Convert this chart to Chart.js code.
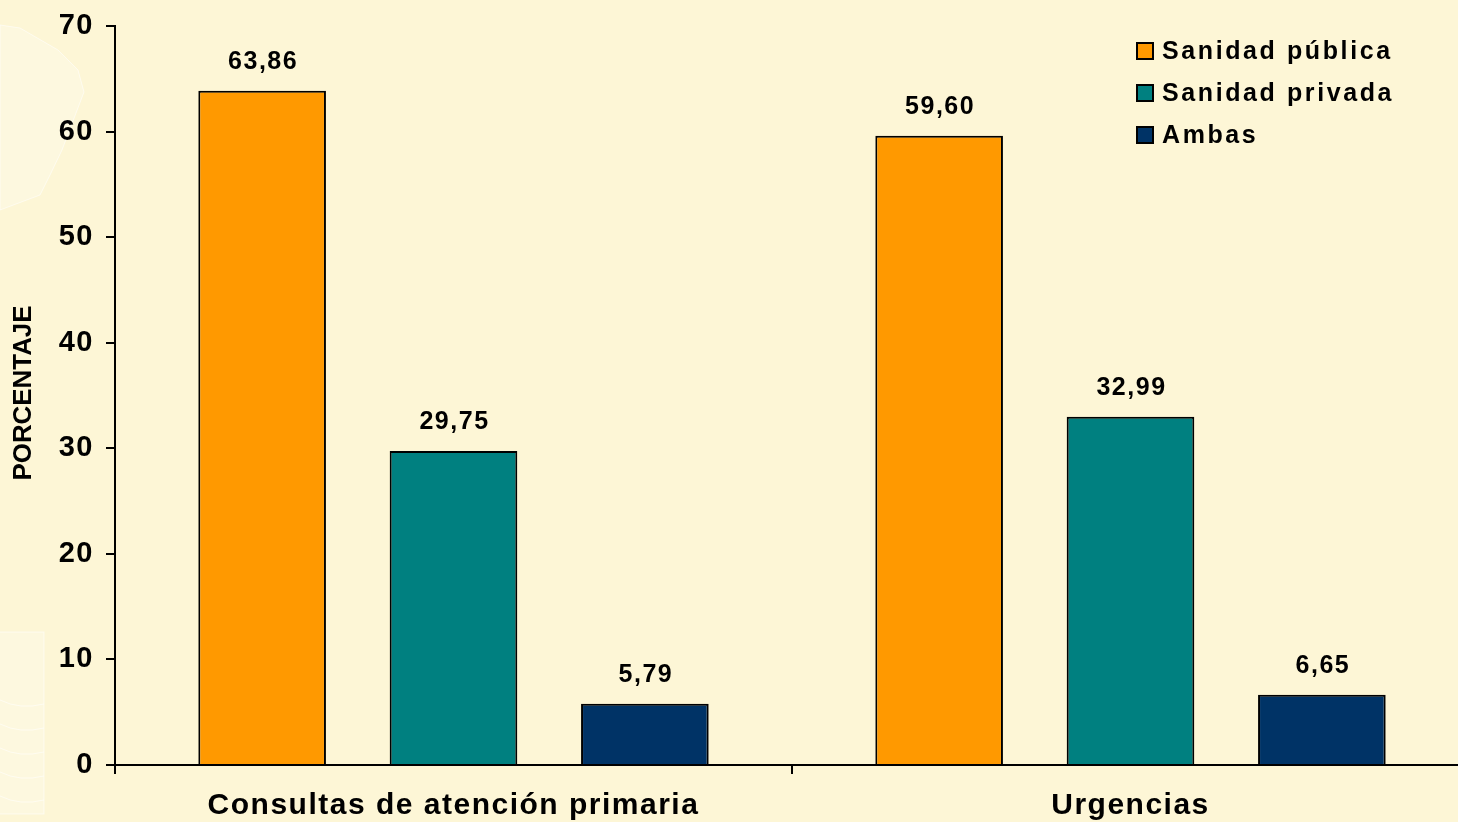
<!DOCTYPE html>
<html>
<head>
<meta charset="utf-8">
<script src="https://cdn.jsdelivr.net/npm/chart.js@4.4.1/dist/chart.umd.min.js"></script>
<style>
  html, body { margin: 0; padding: 0; background: #fdf6d6; overflow: hidden; }
  #wrap { width: 1458px; height: 822px; overflow: hidden; }
</style>
</head>
<body>
<div id="wrap"><canvas id="chart" width="1470" height="822"></canvas></div>
<script>
const categories = ["Consultas de atención primaria", "Urgencias"];
const seriesNames = ["Sanidad pública", "Sanidad privada", "Ambas"];
const publica = [63.86, 59.60];
const privada = [29.75, 32.99];
const ambas = [5.79, 6.65];
const yTicks = [0, 10, 20, 30, 40, 50, 60, 70];
const colors = ["#ff9900", "#008080", "#003366"];

const FONT = "'Liberation Sans', Arial, sans-serif";

function fmt(v) {
    return v.toFixed(2).replace(".", ",");
}

// the original text is a bit wide, so space the letters out
const spacing = {
    id: "spacing",
    beforeUpdate(chart) { chart.ctx.letterSpacing = "1.5px"; },
    beforeDraw(chart) { chart.ctx.letterSpacing = "1.5px"; }
};

// faint watermark shapes on the left edge
const watermark = {
    id: "watermark",
    beforeDraw(chart) {
        const ctx = chart.ctx;
        ctx.save();
        ctx.fillStyle = "rgba(255,255,255,0.22)";
        ctx.strokeStyle = "rgba(255,255,255,0.55)";
        ctx.lineWidth = 1;
        ctx.beginPath();
        ctx.moveTo(0, 25);
        ctx.lineTo(20, 28);
        ctx.lineTo(58, 50);
        ctx.lineTo(78, 70);
        ctx.lineTo(84, 92);
        ctx.lineTo(62, 150);
        ctx.lineTo(50, 175);
        ctx.lineTo(40, 195);
        ctx.lineTo(0, 210);
        ctx.closePath();
        ctx.fill();
        ctx.stroke();
        ctx.fillRect(0, 632, 44, 182);
        ctx.strokeRect(-2, 632, 46, 182);
        for (let y = 700; y < 815; y += 24) {
            ctx.beginPath();
            ctx.moveTo(0, y);
            ctx.quadraticCurveTo(20, y + 10, 44, y + 4);
            ctx.stroke();
        }
        ctx.restore();
    }
};

// value labels over each bar
const valueLabels = {
    id: "valueLabels",
    afterDatasetsDraw(chart) {
        const ctx = chart.ctx;
        ctx.save();
        ctx.font = "bold 25px " + FONT;
        ctx.letterSpacing = "1.5px";
        ctx.fillStyle = "#000";
        ctx.textAlign = "center";
        ctx.textBaseline = "middle";
        chart.data.datasets.forEach((ds, i) => {
            chart.getDatasetMeta(i).data.forEach((bar, j) => {
                ctx.fillText(fmt(ds.data[j]), bar.x + 1, bar.y - 29);
            });
        });
        ctx.restore();
    }
};

// legend in the top right corner + rotated axis title
const extras = {
    id: "extras",
    afterDraw(chart) {
        const ctx = chart.ctx;
        ctx.save();
        ctx.font = "bold 25px " + FONT;
        ctx.letterSpacing = "2.6px";
        ctx.textBaseline = "middle";
        chart.data.datasets.forEach((ds, i) => {
            const y = 51 + i * 42;
            ctx.fillStyle = ds.backgroundColor;
            ctx.fillRect(1137, y - 8, 16, 16);
            ctx.lineWidth = 2;
            ctx.strokeStyle = "#000";
            ctx.strokeRect(1137, y - 8, 16, 16);
            ctx.fillStyle = "#000";
            ctx.fillText(ds.label, 1162, y + 1);
        });
        ctx.restore();

        ctx.save();
        ctx.font = "bold 25px " + FONT;
        ctx.letterSpacing = "0px";
        const w = ctx.measureText("PORCENTAJE").width;
        ctx.translate(24, 393);
        ctx.rotate(-Math.PI / 2);
        ctx.scale(175 / w, 1);
        ctx.fillStyle = "#000";
        ctx.textAlign = "center";
        ctx.textBaseline = "middle";
        ctx.fillText("PORCENTAJE", 0, 0);
        ctx.restore();
    }
};

new Chart(document.getElementById("chart"), {
    type: "bar",
    data: {
        labels: categories,
        datasets: [publica, privada, ambas].map((d, i) => ({
            label: seriesNames[i],
            data: d,
            backgroundColor: colors[i],
            borderColor: "#000",
            borderWidth: 2,
            barPercentage: 0.667,
            categoryPercentage: 0.848
        }))
    },
    options: {
        responsive: false,
        animation: false,
        layout: { padding: { top: 26, right: 1, left: 0, bottom: 0 } },
        plugins: {
            legend: { display: false },
            tooltip: { enabled: false }
        },
        scales: {
            x: {
                grid: { display: true, drawOnChartArea: false, drawTicks: true, tickLength: 9, color: "#000", lineWidth: 2, offset: true },
                border: { display: true, color: "#000", width: 2 },
                ticks: { color: "#000", font: { family: FONT, size: 30, weight: "bold" }, padding: 14 },
                afterFit(scale) { scale.height = 57; }
            },
            y: {
                min: 0,
                max: 70,
                afterBuildTicks(scale) { scale.ticks = yTicks.map(v => ({ value: v })); },
                grid: { display: true, drawOnChartArea: false, drawTicks: true, tickLength: 9, color: "#000", lineWidth: 2 },
                border: { display: true, color: "#000", width: 2 },
                ticks: { color: "#000", font: { family: FONT, size: 29, weight: "bold" }, padding: 12 },
                afterFit(scale) {
                    scale.width = 115;
                    scale.paddingTop = 0;
                    scale.paddingBottom = 0;
                }
            }
        }
    },
    plugins: [watermark, spacing, valueLabels, extras]
});
</script>
</body>
</html>
